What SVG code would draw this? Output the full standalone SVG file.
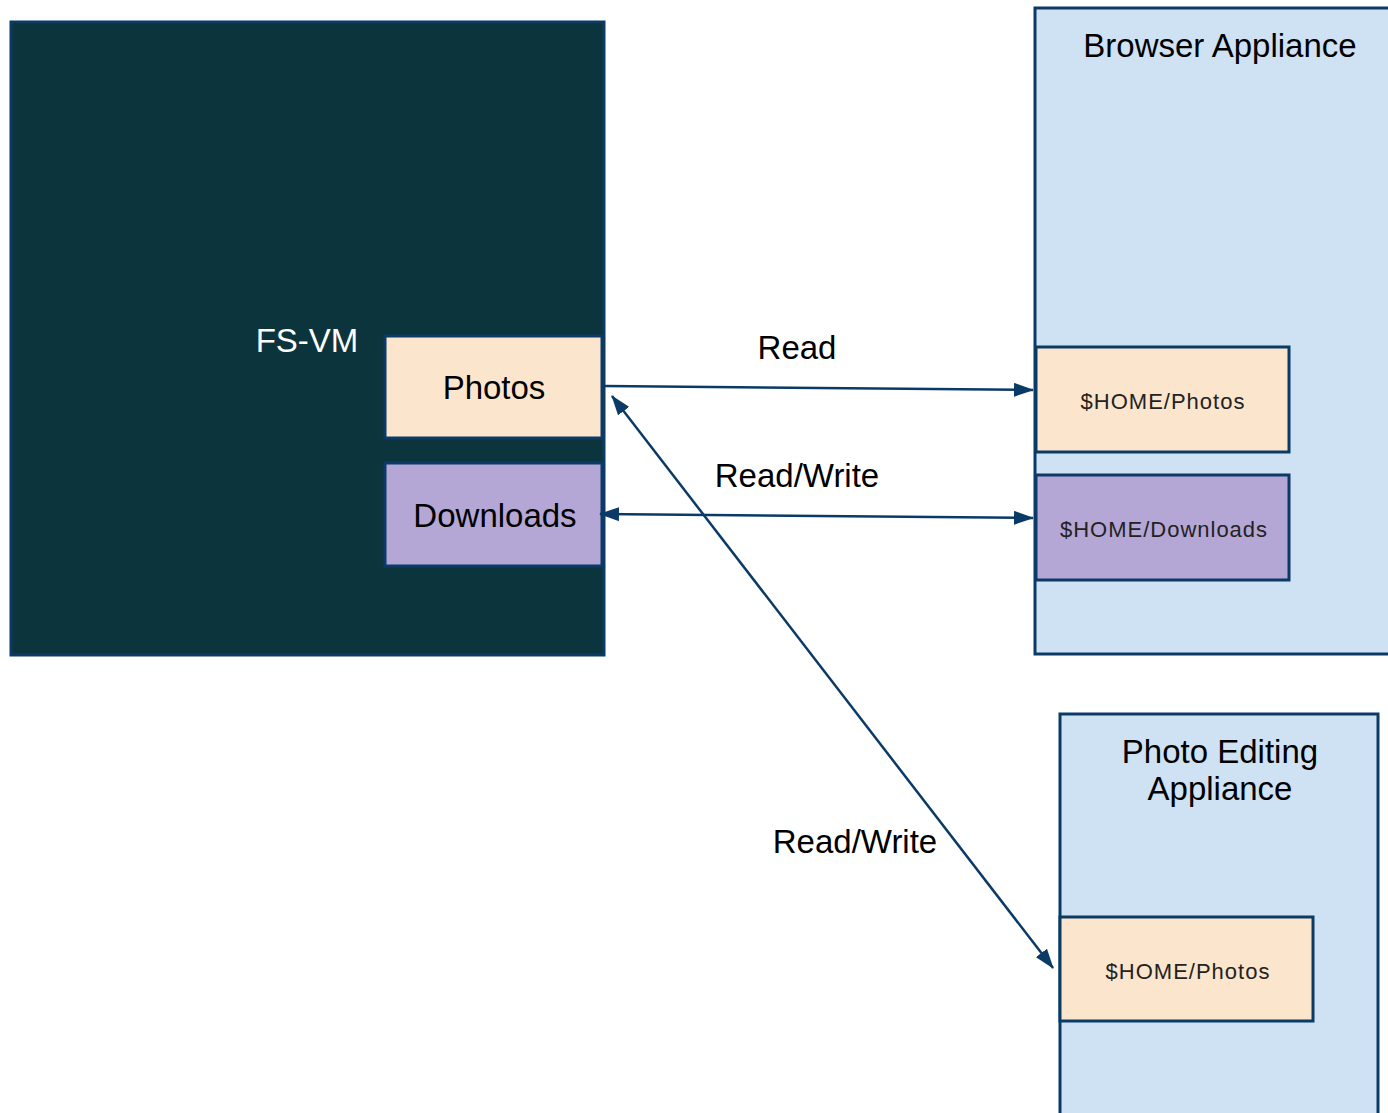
<svg xmlns="http://www.w3.org/2000/svg" width="1388" height="1113" viewBox="0 0 1388 1113">
<style>
.box{stroke:#0b3a66;stroke-width:3}
.vm{fill:#0c343d}
.app{fill:#cfe2f3}
.ph{fill:#fce5cd}
.dl{fill:#b4a7d6}
.big{font-family:"Liberation Sans",Arial,sans-serif;font-size:33px;fill:#000;text-anchor:middle}
.small{font-family:"Liberation Sans",Arial,sans-serif;font-size:22px;fill:#222;text-anchor:middle;letter-spacing:1px}
.conn{stroke:#0b3a66;stroke-width:2.5;fill:none}
</style>
<defs>
<marker id="ah" viewBox="0 0 20 14" refX="19" refY="7" markerWidth="20" markerHeight="14" markerUnits="userSpaceOnUse" orient="auto-start-reverse">
<path d="M0,0 L20,7 L0,14 z" fill="#0b3a66"/>
</marker>
</defs>
<g id="fs-vm">
<rect class="box vm" x="11" y="22" width="593" height="633"/>
<text class="big" x="307" y="352" fill="#fff" style="fill:#fff">FS-VM</text>
</g>
<g id="fs-photos">
<rect class="box ph" x="385" y="336" width="217" height="102"/>
<text class="big" x="494" y="399">Photos</text>
</g>
<g id="fs-downloads">
<rect class="box dl" x="385" y="463" width="217" height="103"/>
<text class="big" x="495" y="527">Downloads</text>
</g>
<g id="browser-appliance">
<rect class="box app" x="1035" y="8" width="360" height="646"/>
<text class="big" x="1220" y="57">Browser Appliance</text>
</g>
<g id="browser-photos">
<rect class="box ph" x="1036" y="347" width="253" height="105"/>
<text class="small" x="1163" y="409">$HOME/Photos</text>
</g>
<g id="browser-downloads">
<rect class="box dl" x="1036" y="475" width="253" height="105"/>
<text class="small" x="1164" y="537">$HOME/Downloads</text>
</g>
<g id="photo-editing-appliance">
<rect class="box app" x="1060" y="714" width="318" height="410"/>
<text class="big" x="1220" y="763">Photo Editing</text>
<text class="big" x="1220" y="800">Appliance</text>
</g>
<g id="editing-photos">
<rect class="box ph" x="1060" y="917" width="253" height="104"/>
<text class="small" x="1188" y="979">$HOME/Photos</text>
</g>
<g id="connectors">
<line class="conn" x1="605" y1="386" x2="1033" y2="390" marker-end="url(#ah)"/>
<line class="conn" x1="600" y1="514" x2="1033" y2="518" marker-start="url(#ah)" marker-end="url(#ah)"/>
<line class="conn" x1="612" y1="396" x2="1053" y2="968" marker-start="url(#ah)" marker-end="url(#ah)"/>
<text class="big" x="797" y="359">Read</text>
<text class="big" x="797" y="487">Read/Write</text>
<text class="big" x="855" y="853">Read/Write</text>
</g>
</svg>
